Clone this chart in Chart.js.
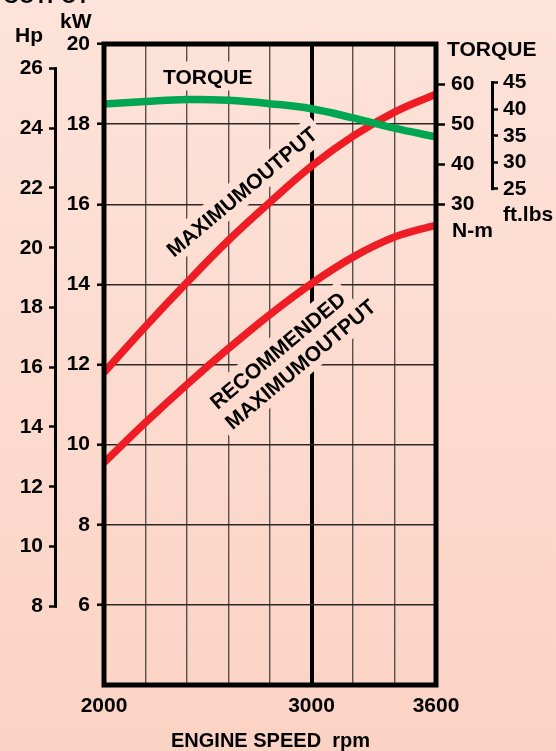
<!DOCTYPE html>
<html><head><meta charset="utf-8">
<script src="https://cdn.jsdelivr.net/npm/chart.js@4"></script>
<style>html,body{margin:0;padding:0;background:#fcdccf;overflow:hidden}canvas{display:block}</style>
</head><body>
<canvas id="c" width="556" height="751"></canvas>
<script>
// ---- data ----
const rpm = [2000, 2200, 2400, 2600, 2800, 3000, 3200, 3400, 3600];
const maxOutputKW = [11.8, 12.95, 14.05, 15.1, 16.05, 16.95, 17.7, 18.3, 18.75];
const recommendedKW = [9.55, 10.55, 11.5, 12.4, 13.25, 14.02, 14.68, 15.18, 15.48];
const torqueNm = [55.0, 55.65, 56.15, 55.95, 55.1, 53.85, 51.55, 49.0, 46.8];

// ---- ticks ----
const xTicks = [2000, 2200, 2400, 2600, 2800, 3000, 3200, 3400, 3600];
const xLabels = [2000, 3000, 3600];
const kwTicks = [6, 8, 10, 12, 14, 16, 18, 20];
const hpTicks = [8, 10, 12, 14, 16, 18, 20, 22, 24, 26];
const nmTicks = [30, 40, 50, 60];
const ftlbTicks = [25, 30, 35, 40, 45];

// ---- axis ranges ----
const kwRange = [4, 20];
const HP_PER_KW = 1.341;
const nmRange = [-90, 70];
const ftlbRange = [-68.15, 52.23];

const FAMILY = '"Liberation Sans", Arial, Helvetica, sans-serif';
const tickFont = {family: FAMILY, size: 21, weight: 'bold'};

function bgGrad(ctx, h) {
  const g = ctx.createLinearGradient(0, 0, 0, h);
  g.addColorStop(0, '#fde3d9');
  g.addColorStop(1, '#fbd3c5');
  return g;
}

// in-plot labels (positions in data units: rpm, kW)
const plotLabels = [
  {lines: ['TORQUE'], rpm: 2500, kw: 19.2, angle: 0},
  {lines: ['MAXIMUMOUTPUT'], rpm: 2663, kw: 16.32, angle: -40},
  {lines: ['RECOMMENDED'], rpm: 2836, kw: 12.36, angle: -40},
  {lines: ['MAXIMUMOUTPUT'], rpm: 2945, kw: 12.01, angle: -40}
];

const decor = {
  id: 'decor',
  beforeDraw(chart) {
    const ctx = chart.ctx;
    ctx.save();
    ctx.fillStyle = bgGrad(ctx, chart.height);
    ctx.fillRect(0, 0, chart.width, chart.height);
    ctx.restore();
  },
  beforeDatasetsDraw(chart) {
    const ctx = chart.ctx;
    const xs = chart.scales.x, ys = chart.scales.kw;
    ctx.save();
    ctx.font = 'bold 21px ' + FAMILY;
    plotLabels.forEach(l => {
      const cx = xs.getPixelForValue(l.rpm), cy = ys.getPixelForValue(l.kw);
      const a = l.angle * Math.PI / 180, c = Math.cos(a), s = Math.sin(a);
      const w = ctx.measureText(l.lines[0]).width + 12, h = 29;
      const pts = [[-w/2,-h/2],[w/2,-h/2],[w/2,h/2],[-w/2,h/2]].map(([x,y]) => [cx + x*c - y*s, cy + x*s + y*c]);
      ctx.fillStyle = bgGrad(ctx, chart.height);
      ctx.beginPath();
      pts.forEach((p,i) => i ? ctx.lineTo(p[0],p[1]) : ctx.moveTo(p[0],p[1]));
      ctx.closePath();
      ctx.fill();
    });
    plotLabels.forEach(l => {
      const cx = xs.getPixelForValue(l.rpm), cy = ys.getPixelForValue(l.kw);
      ctx.save();
      ctx.translate(cx, cy);
      ctx.rotate(l.angle * Math.PI / 180);
      ctx.fillStyle = '#000';
      ctx.textAlign = 'center';
      ctx.textBaseline = 'alphabetic';
      ctx.fillText(l.lines[0], 0, 7.5);
      ctx.restore();
    });
    ctx.restore();
  },
  afterDatasetsDraw(chart) {
    const ctx = chart.ctx, a = chart.chartArea;
    ctx.save();
    ctx.strokeStyle = '#000';
    ctx.lineWidth = 5;
    ctx.strokeRect(a.left, a.top, a.right - a.left, a.bottom - a.top);
    // Hp bar
    const hp = chart.scales.hp;
    ctx.lineWidth = 3;
    ctx.beginPath();
    ctx.moveTo(hp.right - 1.5, hp.getPixelForValue(hpTicks[0]) + 1.2);
    ctx.lineTo(hp.right - 1.5, hp.getPixelForValue(hpTicks[hpTicks.length-1]) - 1.2);
    ctx.stroke();
    // ft.lbs bar
    const fl = chart.scales.ftlb;
    ctx.beginPath();
    ctx.moveTo(fl.left + 1.5, fl.getPixelForValue(ftlbTicks[0]) + 1.2);
    ctx.lineTo(fl.left + 1.5, fl.getPixelForValue(ftlbTicks[ftlbTicks.length-1]) - 1.2);
    ctx.stroke();
    ctx.restore();
  },
  afterDraw(chart) {
    const ctx = chart.ctx;
    ctx.save();
    ctx.fillStyle = '#000';
    ctx.font = 'bold 21px ' + FAMILY;
    ctx.textBaseline = 'alphabetic';
    ctx.textAlign = 'left';
    ctx.fillText('OUTPUT', 3, 3);
    ctx.fillText('kW', 60, 28);
    ctx.fillText('TORQUE', 447, 56);
    ctx.fillText('ft.lbs', 503, 221);
    ctx.fillText('N-m', 452, 237);
    ctx.textAlign = 'right';
    ctx.fillText('Hp', 43, 42);
    ctx.textAlign = 'center';
    ctx.font = 'bold 20px ' + FAMILY;
    const a = chart.chartArea;
    ctx.fillText('ENGINE SPEED  rpm', (a.left + a.right) / 2 + 0.5, 747);
    ctx.restore();
  }
};

const pts = arr => rpm.map((r, i) => ({x: r, y: arr[i]}));
const setTicks = list => (scale => { scale.ticks = list.map(v => ({value: v})); });

new Chart(document.getElementById('c'), {
  type: 'line',
  data: {
    datasets: [
      {label: 'Torque', data: pts(torqueNm), yAxisID: 'nm', borderColor: '#00a651', borderWidth: 7.5,
       pointRadius: 0, tension: 0.4, clip: 0, fill: false},
      {label: 'Maximum output', data: pts(maxOutputKW), yAxisID: 'kw', borderColor: '#ee1d25', borderWidth: 7.5,
       pointRadius: 0, tension: 0.4, clip: 0, fill: false},
      {label: 'Recommended maximum output', data: pts(recommendedKW), yAxisID: 'kw', borderColor: '#ee1d25', borderWidth: 7.5,
       pointRadius: 0, tension: 0.4, clip: 0, fill: false}
    ]
  },
  options: {
    responsive: false,
    animation: false,
    devicePixelRatio: 1,
    layout: {padding: {top: 44, left: 0, right: 0, bottom: 0}},
    plugins: {legend: {display: false}, tooltip: {enabled: false}},
    events: [],
    scales: {
      x: {
        type: 'linear', position: 'bottom', min: xTicks[0], max: xTicks[xTicks.length-1],
        afterBuildTicks: setTicks(xTicks),
        afterFit: s => { s.height = 66; },
        border: {display: false},
        grid: {
          drawTicks: false,
          color: c => c.tick && c.tick.value === 3000 ? '#000' : '#5a4f4b',
          lineWidth: c => c.tick && c.tick.value === 3000 ? 4 : 1.4
        },
        ticks: {
          autoSkip: false, maxRotation: 0, minRotation: 0, padding: 9,
          font: tickFont, color: '#000',
          callback: v => xLabels.includes(v) ? String(v) : ''
        }
      },
      hp: {
        type: 'linear', position: 'left', weight: 10,
        min: kwRange[0] * HP_PER_KW, max: kwRange[1] * HP_PER_KW,
        afterBuildTicks: setTicks(hpTicks),
        afterFit: s => { s.width = 57; },
        border: {display: false},
        grid: {drawOnChartArea: false, drawTicks: true, tickLength: 8, tickWidth: 2.5, tickColor: '#000', color: '#000'},
        ticks: {padding: 6, font: tickFont, color: '#000', autoSkip: false}
      },
      kw: {
        type: 'linear', position: 'left', weight: 0,
        min: kwRange[0], max: kwRange[1],
        afterBuildTicks: setTicks(kwTicks),
        afterFit: s => { s.width = 47; },
        border: {display: false},
        grid: {drawOnChartArea: true, color: '#2e2826', lineWidth: 1.4, drawTicks: true, tickLength: 7, tickWidth: 2.5, tickColor: '#000'},
        ticks: {padding: 7, font: tickFont, color: '#000', autoSkip: false}
      },
      nm: {
        type: 'linear', position: 'right', weight: 0,
        min: nmRange[0], max: nmRange[1],
        afterBuildTicks: setTicks(nmTicks),
        afterFit: s => { s.width = 55; },
        border: {display: false},
        grid: {drawOnChartArea: false, drawTicks: true, tickLength: 9, tickWidth: 2.5, tickColor: '#000', color: '#000'},
        ticks: {padding: 6, font: tickFont, color: '#000', autoSkip: false}
      },
      ftlb: {
        type: 'linear', position: 'right', weight: 10,
        min: ftlbRange[0], max: ftlbRange[1],
        afterBuildTicks: setTicks(ftlbTicks),
        afterFit: s => { s.width = 65; },
        border: {display: false},
        grid: {drawOnChartArea: false, drawTicks: true, tickLength: 7, tickWidth: 2.5, tickColor: '#000', color: '#000'},
        ticks: {padding: 5, font: tickFont, color: '#000', autoSkip: false}
      }
    }
  },
  plugins: [decor]
});
</script>
</body></html>
